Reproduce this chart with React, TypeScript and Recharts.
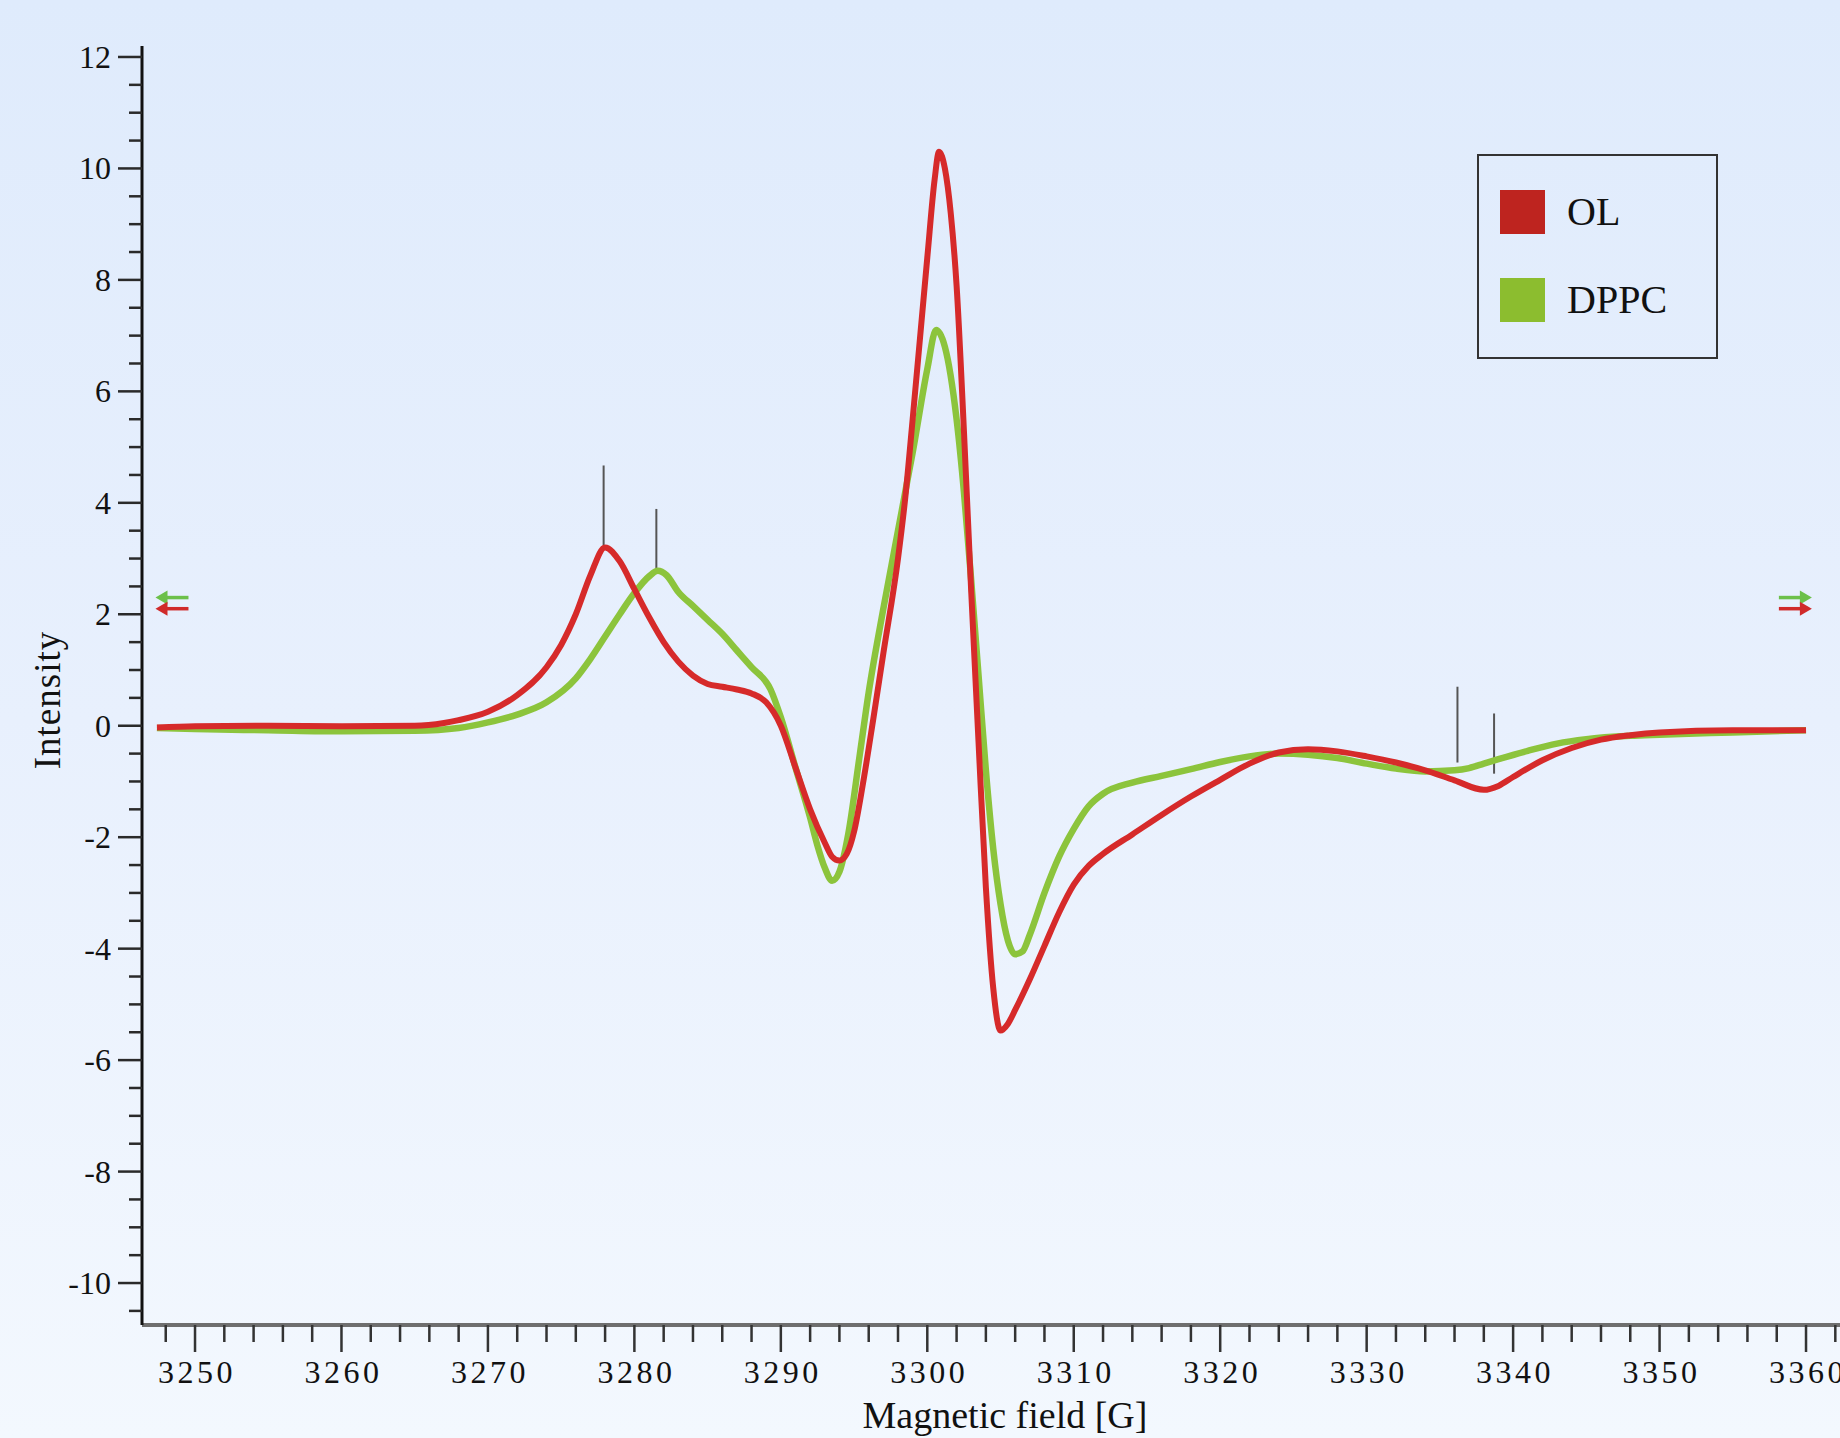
import { LineChart, Line, XAxis, YAxis, ReferenceLine, ReferenceDot, Legend } from "recharts";

// EPR spectra
const olField = [
  3247.4, 3250, 3255, 3260, 3265, 3267, 3268, 3270, 3272, 3274, 3275, 3276, 3277, 3278, 3279, 3280,
  3281, 3282, 3283, 3284, 3285, 3286, 3287, 3288, 3289, 3290, 3291, 3292, 3293, 3293.5, 3294, 3294.5,
  3295, 3295.6, 3296.3, 3297, 3298, 3298.5, 3299, 3300, 3300.5, 3300.8, 3301.2, 3301.6, 3302, 3302.5,
  3303, 3303.5, 3304, 3304.5, 3305, 3305.5, 3306, 3307, 3308, 3309, 3310, 3311, 3312, 3314, 3316, 3318,
  3320, 3322, 3324, 3326, 3328, 3330, 3332, 3334, 3336, 3338, 3339, 3340, 3342, 3344, 3346, 3348, 3350,
  3355, 3360,
];
const olIntensity = [
  -0.03, -0.01, 0.0, -0.01, 0.0, 0.05, 0.1, 0.25, 0.55, 1.05, 1.45, 2.0, 2.7, 3.2, 2.95, 2.45,
  1.95, 1.5, 1.15, 0.9, 0.75, 0.7, 0.65, 0.58, 0.42, 0.0, -0.75, -1.5, -2.1, -2.35, -2.42, -2.3,
  -1.9, -1.05, 0.1, 1.3, 3.0, 4.1, 5.5, 8.4, 9.8, 10.3, 10.0, 9.2, 7.9, 5.3,
  2.4, -0.3, -2.9, -4.7, -5.47, -5.35, -5.1, -4.55, -3.95, -3.35, -2.85, -2.52, -2.3, -1.95, -1.6, -1.27,
  -0.97, -0.68, -0.48, -0.42, -0.46, -0.55, -0.66, -0.8, -0.98, -1.15, -1.08, -0.92, -0.62, -0.4, -0.25, -0.17, -0.12,
  -0.08, -0.08,
];

const dppcField = [
  3247.4, 3250, 3255, 3260, 3265, 3268, 3270, 3272, 3274, 3276, 3277, 3278, 3279, 3280, 3281, 3281.6,
  3282.2, 3283, 3284, 3285, 3286, 3287, 3288, 3289.3, 3290, 3291, 3292, 3292.5, 3293, 3293.5, 3294, 3294.6,
  3295.4, 3296, 3297, 3298, 3298.5, 3299, 3300, 3300.6, 3301.2, 3302, 3302.5, 3303, 3303.5, 3304, 3304.5,
  3305, 3305.5, 3306, 3306.5, 3307, 3308, 3309, 3310, 3311, 3312, 3314, 3316, 3318, 3320, 3322, 3324,
  3326, 3328, 3330, 3332, 3334, 3336, 3337, 3338, 3339, 3341, 3343, 3345, 3348, 3350, 3355, 3360,
];
const dppcIntensity = [
  -0.04, -0.06, -0.08, -0.1, -0.09, -0.04, 0.06, 0.2, 0.42, 0.85, 1.2, 1.6, 2.0, 2.38, 2.68, 2.78,
  2.7, 2.4, 2.15, 1.9, 1.65, 1.35, 1.05, 0.65, 0.15, -0.75, -1.65, -2.15, -2.55, -2.78, -2.62, -1.95,
  -0.5, 0.6, 2.1, 3.5, 4.2, 4.9, 6.4, 7.1, 6.8, 5.5, 4.2, 2.6, 0.9, -0.8, -2.2,
  -3.2, -3.85, -4.1, -4.05, -3.75, -3.0, -2.35, -1.85, -1.45, -1.22, -1.02, -0.9, -0.78, -0.65, -0.55, -0.5,
  -0.52, -0.58, -0.68, -0.77, -0.82, -0.8, -0.76, -0.68, -0.6, -0.45, -0.32, -0.24, -0.18, -0.16, -0.12, -0.08,
];

// peak marker lines
const markerField = [3277.9, 3281.5, 3336.2, 3338.7];
const markerLow = [3.23, 2.82, -0.66, -0.86];
const markerHigh = [4.67, 3.89, 0.7, 0.22];

// cursor arrows at both ends
const cursorField = [3247.3, 3360.4];
const cursorOL = 2.1;
const cursorDPPC = 2.3;

const xLabels = [3250, 3260, 3270, 3280, 3290, 3300, 3310, 3320, 3330, 3340, 3350, 3360];
const yLabels = [-10, -8, -6, -4, -2, 0, 2, 4, 6, 8, 10, 12];

const xTicks: number[] = [];
for (let v = 3248; v <= 3362; v += 2) xTicks.push(v);
const yTicks: number[] = [];
for (let v = -10.5; v <= 12; v += 0.5) yTicks.push(v);

const RED = "#d62a2a";
const GREEN = "#8cc43c";
const FONT = "'Liberation Serif', 'DejaVu Serif', serif";

const olData = olField.map((x, i) => ({ x, y: olIntensity[i] }));
const dppcData = dppcField.map((x, i) => ({ x, y: dppcIntensity[i] }));

const YTick = ({ x, y, payload }: any) => {
  const v = payload.value;
  const major = yLabels.includes(v);
  return (
    <g>
      <line x1={x - (major ? 24 : 13)} x2={x} y1={y} y2={y} stroke="#2a2a2a" strokeWidth={2.5} />
      {major && (
        <text x={x - 31} y={y + 11} textAnchor="end" fontSize={32} fontFamily={FONT} fill="#111">
          {v}
        </text>
      )}
    </g>
  );
};

const XTick = ({ x, y, payload }: any) => {
  const v = payload.value;
  const major = xLabels.includes(v);
  return (
    <g>
      <line x1={x} x2={x} y1={y} y2={y + (major ? 27 : 17)} stroke="#333" strokeWidth={2.5} />
      {major && (
        <text x={x + 2} y={y + 58} textAnchor="middle" fontSize={32} letterSpacing={3.5} fontFamily={FONT} fill="#111">
          {v}
        </text>
      )}
    </g>
  );
};

const YTitle = () => (
  <text x={47} y={700} transform="rotate(-90 47 700)" textAnchor="middle" dominantBaseline="central"
    fontSize={37} letterSpacing={1} fontFamily={FONT} fill="#111">
    Intensity
  </text>
);

const XTitle = () => (
  <text x={1005} y={1428} textAnchor="middle" fontSize={38} fontFamily={FONT} fill="#111">
    Magnetic field [G]
  </text>
);

const arrow = (dir: number, color: string) => (p: any) => {
  const { cx, cy } = p;
  return (
    <g>
      <line x1={cx - dir * 8} x2={cx - dir * 33} y1={cy} y2={cy} stroke={color} strokeWidth={3.5} />
      <path d={`M${cx},${cy} L${cx - dir * 12},${cy - 7} L${cx - dir * 12},${cy + 7} Z`} fill={color} />
    </g>
  );
};

const LegendBox = () => (
  <div style={{ width: 241, height: 205, border: "2px solid #333", boxSizing: "border-box", position: "relative", fontFamily: FONT }}>
    {[
      { name: "OL", color: "#be241f", top: 34 },
      { name: "DPPC", color: "#8cbd2f", top: 122 },
    ].map((it) => (
      <div key={it.name} style={{ position: "absolute", left: 21, top: it.top, display: "flex", alignItems: "center" }}>
        <div style={{ width: 45, height: 44, background: it.color }} />
        <span style={{ marginLeft: 22, fontSize: 40, color: "#111", lineHeight: "44px" }}>{it.name}</span>
      </div>
    ))}
  </div>
);

export default function App() {
  return (
    <div
      style={{
        position: "absolute",
        left: 0,
        top: 0,
        width: 1840,
        height: 1438,
        background: "linear-gradient(180deg, #dfebfc 0%, #e8f0fd 50%, #f3f8fe 100%)",
        overflow: "hidden",
      }}
    >
      <LineChart width={1840} height={1438} margin={{ top: 46, right: 0, bottom: 0, left: 0 }}>
        <XAxis
          type="number"
          dataKey="x"
          domain={[3246.38, 3362.32]}
          allowDataOverflow
          ticks={xTicks}
          interval={0}
          tickSize={0}
          tickMargin={0}
          tickLine={false}
          tick={<XTick />}
          height={113}
          axisLine={{ stroke: "#6e6e6e", strokeWidth: 4 }}
          label={<XTitle />}
        />
        <YAxis
          type="number"
          domain={[-10.753, 12.197]}
          allowDataOverflow
          ticks={yTicks}
          interval={0}
          tickSize={0}
          tickMargin={0}
          tickLine={false}
          tick={<YTick />}
          width={142}
          axisLine={{ stroke: "#111", strokeWidth: 3 }}
          label={<YTitle />}
        />
        <Legend
          layout="vertical"
          align="center"
          verticalAlign="middle"
          content={<LegendBox />}
          wrapperStyle={{ left: 1477, top: 154, width: 241, height: 205 }}
        />
        {markerField.map((f, i) => (
          <ReferenceLine
            key={f}
            segment={[
              { x: f, y: markerLow[i] },
              { x: f, y: markerHigh[i] },
            ]}
            stroke="#555"
            strokeWidth={2}
          />
        ))}
        <Line data={dppcData} dataKey="y" name="DPPC" type="monotone" stroke={GREEN} strokeWidth={6.5} dot={false} activeDot={false} isAnimationActive={false} />
        <Line data={olData} dataKey="y" name="OL" type="monotone" stroke={RED} strokeWidth={6} dot={false} activeDot={false} isAnimationActive={false} />
        <ReferenceDot x={cursorField[0]} y={cursorDPPC} shape={arrow(-1, "#6cc04a")} />
        <ReferenceDot x={cursorField[0]} y={cursorOL} shape={arrow(-1, "#d02a2a")} />
        <ReferenceDot x={cursorField[1]} y={cursorDPPC} shape={arrow(1, "#6cc04a")} />
        <ReferenceDot x={cursorField[1]} y={cursorOL} shape={arrow(1, "#d02a2a")} />
      </LineChart>
    </div>
  );
}
